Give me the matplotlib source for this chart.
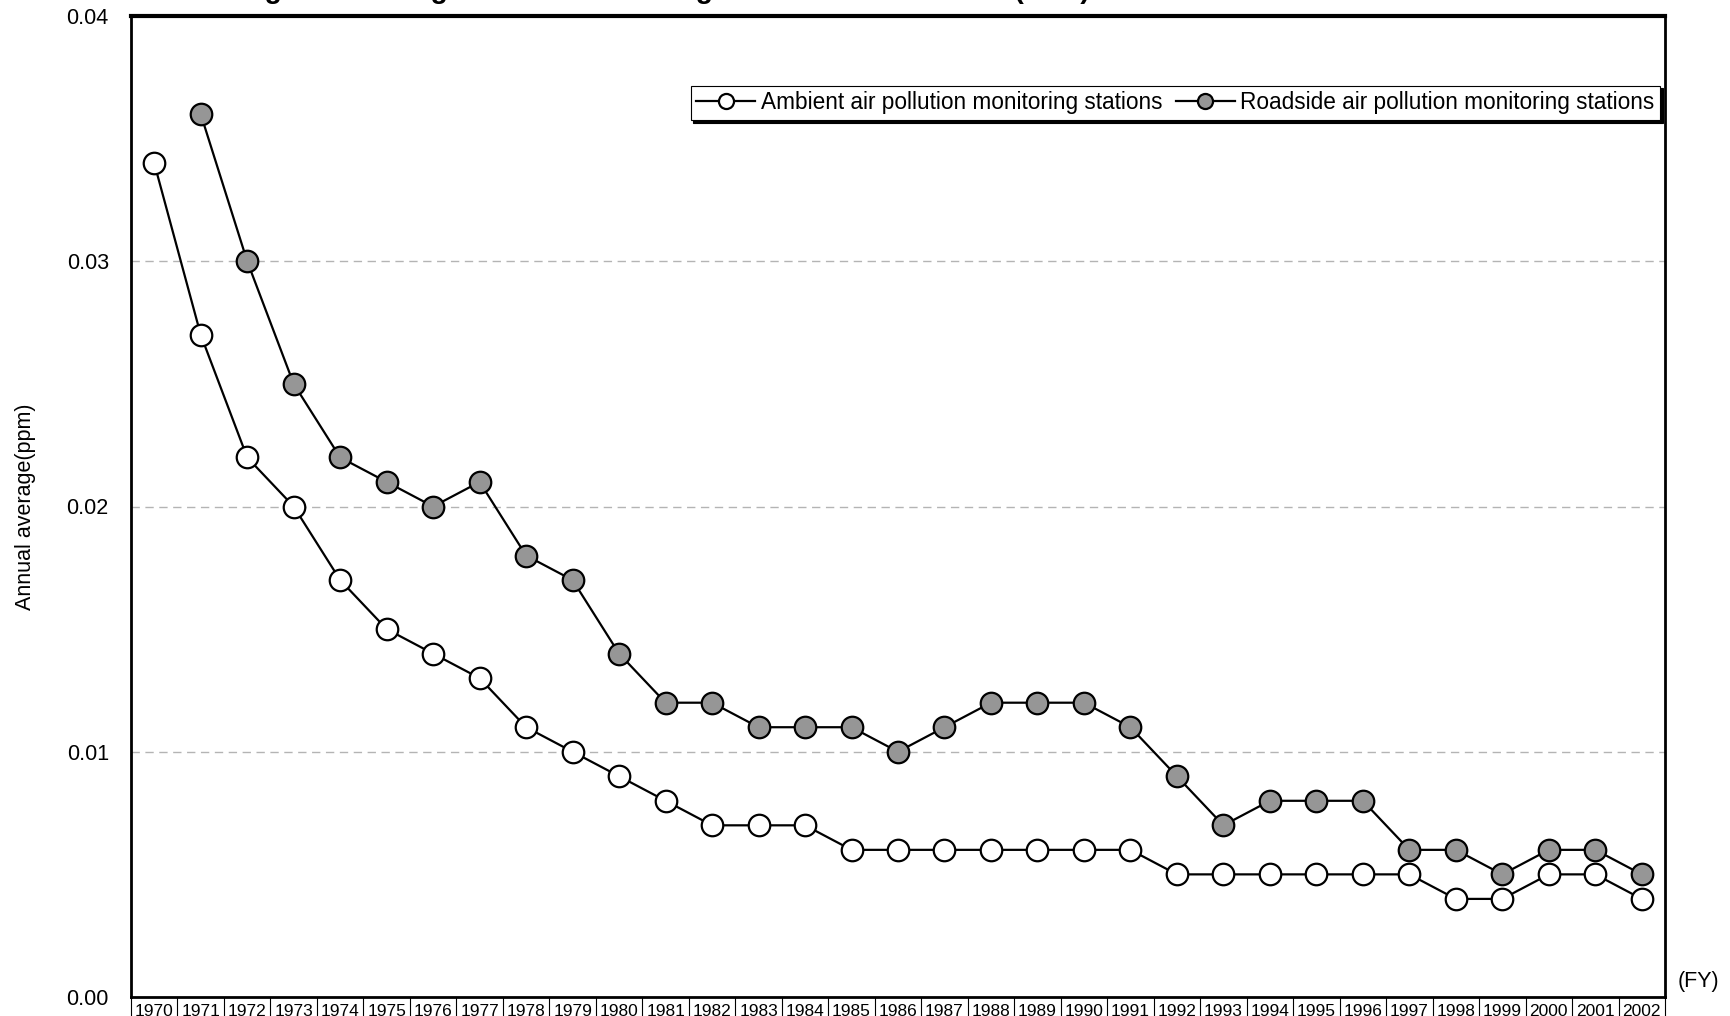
import numpy as np
import matplotlib
matplotlib.use('Agg')
import matplotlib.pyplot as plt
from matplotlib.ticker import FixedLocator, FuncFormatter

plt.rcParams['font.family'] = ['Liberation Sans', 'DejaVu Sans']

# dados (ppm, media anual)
anos = [str(a) for a in range(1970, 2003)]
ambiente = [0.034, 0.027, 0.022, 0.020, 0.017, 0.015, 0.014, 0.013, 0.011, 0.010,
            0.009, 0.008, 0.007, 0.007, 0.007, 0.006, 0.006, 0.006, 0.006, 0.006,
            0.006, 0.006, 0.005, 0.005, 0.005, 0.005, 0.005, 0.005, 0.004, 0.004,
            0.005, 0.005, 0.004]
rodovia = [np.nan, 0.036, 0.030, 0.025, 0.022, 0.021, 0.020, 0.021, 0.018, 0.017,
           0.014, 0.012, 0.012, 0.011, 0.011, 0.011, 0.010, 0.011, 0.012, 0.012,
           0.012, 0.011, 0.009, 0.007, 0.008, 0.008, 0.008, 0.006, 0.006, 0.005,
           0.006, 0.006, 0.005]
y_ticks = [0.00, 0.01, 0.02, 0.03, 0.04]

titulo = 'Changes in Average Concentration Figures of Sulfur Dioxide (SO2)'
nome_amb = 'Ambient air pollution monitoring stations'
nome_rod = 'Roadside air pollution monitoring stations'

fig = plt.figure(figsize=(17.31, 10.16), dpi=100)
ax = fig.add_axes([131/1731, 19/1016, 1534/1731, 981/1016])

x = np.arange(len(anos))

ax.plot(x, ambiente, '-o', color='black', lw=1.6, ms=15.5, mfc='white',
        mec='black', mew=1.6, label=nome_amb, zorder=3)
ax.plot(x, rodovia, '-o', color='black', lw=1.6, ms=15.5, mfc='#969696',
        mec='black', mew=1.6, label=nome_rod, zorder=3)

ax.set_xlim(-0.5, len(anos) - 0.5)
ax.set_ylim(0, 0.04)

# eixo y
ax.set_yticks(y_ticks)
ax.yaxis.set_major_formatter(FuncFormatter(lambda v, p: '%.2f' % v))
ax.tick_params(axis='y', length=0, pad=16, labelsize=15.5)
ax.set_ylabel('Annual average(ppm)', fontsize=15.5)
ax.yaxis.set_label_coords(-0.062, 0.5)
for v in y_ticks[1:-1]:
    ax.axhline(v, color='#b4b4b4', lw=1.0, ls=(0, (6, 4)), zorder=1)

# eixo x: anos dentro de "celulas"
ax.set_xticks(x)
ax.set_xticklabels(anos)
ax.tick_params(axis='x', which='major', length=0, pad=5, labelsize=12.5)
ax.xaxis.set_minor_locator(FixedLocator(np.arange(-0.5, len(anos), 1.0)))
ax.tick_params(axis='x', which='minor', length=15, width=0.8, direction='out',
               color='black')

for s in ['left', 'right', 'bottom']:
    ax.spines[s].set_linewidth(2.0)
ax.spines['top'].set_linewidth(3.0)

ax.text(1.008, 0.005, '(FY)', transform=ax.transAxes, fontsize=15.5,
        ha='left', va='bottom')

leg = ax.legend(loc='upper right', bbox_to_anchor=(0.997, 0.929), ncol=2,
                fontsize=16.3, frameon=True, fancybox=False, edgecolor='black',
                framealpha=1, borderaxespad=0, borderpad=0.25, handlelength=2.6,
                handletextpad=0.25, columnspacing=0.6, markerscale=0.7,
                shadow={'color': 'black', 'alpha': 1})
leg.get_frame().set_linewidth(0.8)

# titulo cortado no topo da figura
fig.text(194/1731, 1.002, titulo, fontsize=20.3, fontweight='bold',
         ha='left', va='baseline')

plt.savefig('out.png', dpi=100)
